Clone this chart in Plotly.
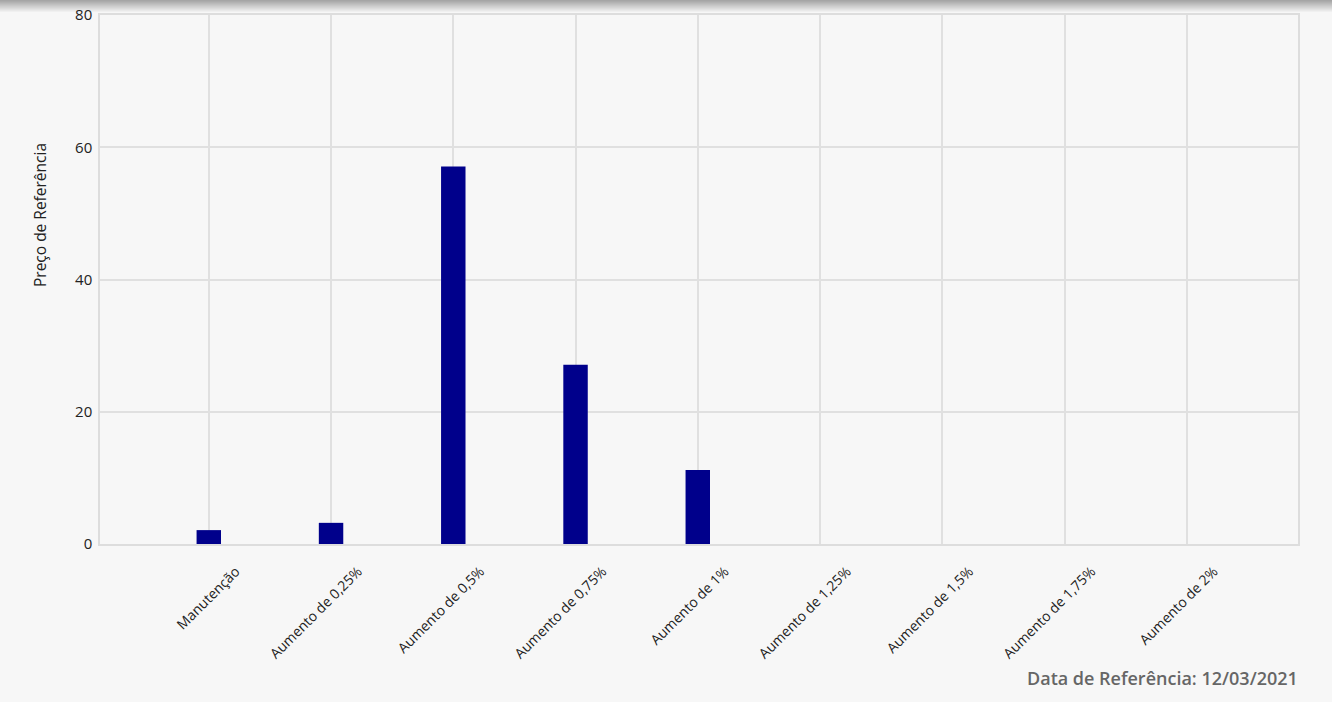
import plotly.graph_objects as go

categories = ["Manutenção", "Aumento de 0,25%", "Aumento de 0,5%", "Aumento de 0,75%",
              "Aumento de 1%", "Aumento de 1,25%", "Aumento de 1,5%", "Aumento de 1,75%",
              "Aumento de 2%"]
values = [2.1, 3.2, 57.1, 27.1, 11.2, 0, 0, 0, 0]
y_ticks = [0, 20, 40, 60, 80]
y_title = "Preço de Referência"
footer = "Data de Referência: 12/03/2021"

W, H = 1332, 702
ML, MR, MT, MB = 100, 34, 15, 158
plot_w = W - ML - MR
plot_h = H - MT - MB

fig = go.Figure(go.Bar(
    x=categories, y=values, width=0.2,
    marker=dict(color="#00008b", line=dict(width=0)),
    hoverinfo="x+y",
))

shapes = []
# top shadow gradient
shade_px = 12
for i in range(shade_px):
    t = i / shade_px
    g = int(165 + (247 - 165) * t)
    y0 = 1 + (MT - i - 1) / plot_h
    y1 = 1 + (MT - i) / plot_h
    shapes.append(dict(type="rect", xref="paper", yref="paper", x0=-ML / plot_w,
                       x1=1 + MR / plot_w, y0=y0, y1=y1,
                       fillcolor=f"rgb({g},{g},{g})", line=dict(width=0), layer="below"))

fig.update_layout(
    width=W, height=H,
    margin=dict(l=ML, r=MR, t=MT, b=MB, autoexpand=False),
    paper_bgcolor="#f7f7f7", plot_bgcolor="#f7f7f7",
    font=dict(family="Open Sans, sans-serif", color="#222", size=14),
    showlegend=False,
    bargap=0.8,
    xaxis=dict(
        type="category", range=[-0.89, 8.91], automargin=False,
        tickangle=-45, showgrid=True, gridcolor="#e0e0e0", gridwidth=1.5,
        showline=True, linecolor="#dddddd", linewidth=1.5, mirror=True,
        ticks="", tickfont=dict(size=14, color="#222"), zeroline=False,
        ticklabelshift=27, ticklabelstandoff=12,
    ),
    yaxis=dict(
        range=[0, 80], tickvals=y_ticks, automargin=False,
        showgrid=True, gridcolor="#e0e0e0", gridwidth=1.5,
        showline=True, linecolor="#dddddd", linewidth=1.5, mirror=True,
        ticks="", tickfont=dict(size=15, color="#222"), zeroline=False,
        ticklabelstandoff=3,
    ),
    shapes=shapes,
    annotations=[
        dict(
            text=footer, xref="paper", yref="paper", x=1.002, y=-0.254,
            xanchor="right", yanchor="middle", showarrow=False,
            font=dict(family="Open Sans, sans-serif", size=18, color="#666666", weight=600),
        ),
        dict(
            text=y_title, xref="paper", yref="paper",
            x=(40 - ML) / plot_w, y=1 - (215 - MT) / plot_h,
            xanchor="center", yanchor="middle", textangle=-90, showarrow=False,
            font=dict(family="Open Sans, sans-serif", size=15.5, color="#222"),
        ),
    ],
)

fig.write_html(
    "out.html",
    config={"displayModeBar": False},
    post_script="document.body.style.margin='0';document.body.style.padding='0';document.body.style.overflow='hidden';",
)
